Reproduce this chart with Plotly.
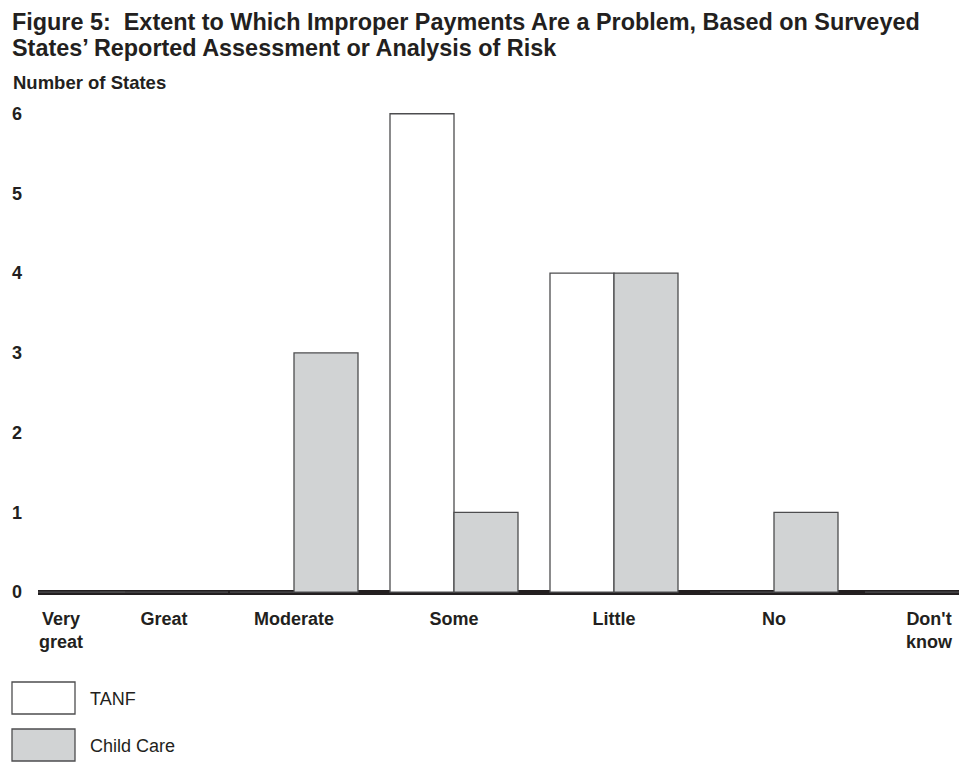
import plotly.graph_objects as go

# ---- data ----
categories = ["Very great", "Great", "Moderate", "Some", "Little", "No", "Don't know"]
tick_labels = ["Very<br>great", "Great", "Moderate", "Some", "Little", "No", "Don't<br>know"]
tanf = [0, 0, 0, 6, 4, 0, 0]
child_care = [0, 0, 3, 1, 4, 1, 0]
y_ticks = [0, 1, 2, 3, 4, 5, 6]

# ---- layout constants (page pixel coordinates; page body has an 8px margin) ----
OFF = 8
PAGE_W, PAGE_H = 967, 762
W, H = PAGE_W - OFF, PAGE_H - OFF
PLOT_L, PLOT_R, PLOT_T, PLOT_B = 38, 967, 97, 600   # plot area in page pixels
L, R, T, B = PLOT_L - OFF, PAGE_W - PLOT_R, PLOT_T - OFF, PAGE_H - PLOT_B
PW, PH = PLOT_R - PLOT_L, PLOT_B - PLOT_T
X_POS = [61, 164, 294, 454, 614, 774, 929]   # category centres (page-pixel units)
BAR_W = 64
INK = "#231f20"
EDGE = "#4d4d4f"
GREY = "#d1d3d4"
FONT = "Liberation Sans, Arial, sans-serif"


def px(x):
    return (x - PLOT_L) / PW


def py(y):
    return (PLOT_B - y) / PH


fig = go.Figure()
fig.add_trace(go.Bar(
    name="TANF", x=X_POS, y=tanf, width=BAR_W, offset=-BAR_W,
    marker=dict(color="white", line=dict(color=EDGE, width=1.3)),
    hovertext=categories,
))
fig.add_trace(go.Bar(
    name="Child Care", x=X_POS, y=child_care, width=BAR_W, offset=0,
    marker=dict(color=GREY, line=dict(color=EDGE, width=1.3)),
    hovertext=categories,
))

annotations = [
    dict(text="<b>Figure 5:  Extent to Which Improper Payments Are a Problem, Based on Surveyed</b>",
         x=px(10), y=py(21.8), xanchor="left", yanchor="middle", font=dict(size=23.4, color=INK)),
    dict(text="<b>States\u2019 Reported Assessment or Analysis of Risk</b>",
         x=px(10), y=py(48), xanchor="left", yanchor="middle", font=dict(size=23.4, color=INK)),
    dict(text="<b>Number of States</b>",
         x=px(11), y=py(82.5), xanchor="left", yanchor="middle", font=dict(size=18.5, color=INK)),
    dict(text="TANF", x=px(88), y=py(699), xanchor="left", yanchor="middle",
         font=dict(size=18, color=INK)),
    dict(text="Child Care", x=px(88), y=py(746), xanchor="left", yanchor="middle",
         font=dict(size=18, color=INK)),
]
for a in annotations:
    a.update(xref="paper", yref="paper", showarrow=False)

shapes = [
    dict(type="rect", xref="paper", yref="paper", x0=px(12), x1=px(75), y0=py(682), y1=py(714),
         fillcolor="white", line=dict(color=EDGE, width=1.3)),
    dict(type="rect", xref="paper", yref="paper", x0=px(12), x1=px(75), y0=py(729), y1=py(761),
         fillcolor=GREY, line=dict(color=EDGE, width=1.3)),
]

fig.update_layout(
    width=W, height=H,
    margin=dict(l=L, r=R, t=T, b=B, pad=0),
    paper_bgcolor="white", plot_bgcolor="white",
    barmode="overlay", showlegend=False,
    font=dict(family=FONT, color=INK),
    annotations=annotations, shapes=shapes,
    xaxis=dict(
        range=[PLOT_L, PLOT_R], tickmode="array", tickvals=X_POS,
        ticktext=["<b>" + t.replace("<br>", "</b><br><b>") + "</b>" for t in tick_labels],
        showgrid=False, zeroline=False, showline=False, ticks="",
        tickfont=dict(size=18, color=INK), ticklabelstandoff=6,
    ),
    yaxis=dict(
        range=[-0.1, 6.21], tickmode="array", tickvals=y_ticks,
        ticktext=["<b>%d</b>" % v for v in y_ticks],
        showgrid=False, showline=False, ticks="",
        zeroline=True, zerolinecolor=INK, zerolinewidth=5,
        tickfont=dict(size=18, color=INK), ticklabelstandoff=15,
    ),
)

fig.write_html("out.html")
